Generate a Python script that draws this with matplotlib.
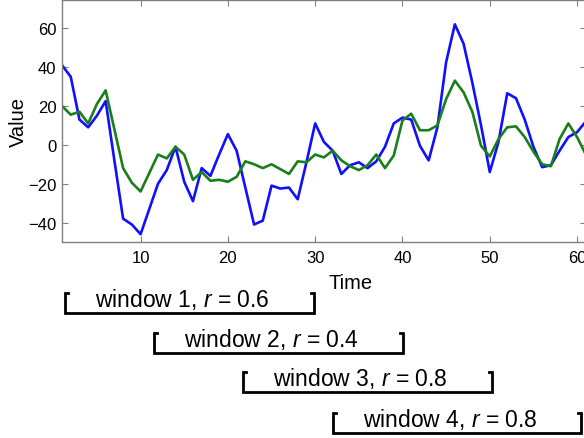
import matplotlib
matplotlib.use("Agg")
import matplotlib.pyplot as plt
from matplotlib.transforms import blended_transform_factory

plt.rcParams['font.family'] = ['Liberation Sans', 'DejaVu Sans']
plt.rcParams['mathtext.fontset'] = 'custom'
plt.rcParams['mathtext.rm'] = 'Liberation Sans'
plt.rcParams['mathtext.it'] = 'Liberation Sans:italic'

# time axis 1..61
time = list(range(1, 62))

# blue series
series_a = [41, 35, 13, 9, 15, 22.5, -8, -38, -41, -46,
            -33, -20, -13, -1, -19, -29, -12, -16, -5, 5.5,
            -3, -22, -41, -39, -21, -22.5, -22, -28, -9, 11,
            1.5, -3, -15, -10.5, -9, -12, -8.5, -1, 11, 14,
            13, -0.5, -8, 9, 42.5, 62, 52, 32, 10, -14,
            1.5, 26.5, 24, 13, -1, -11.5, -10.5, -3, 4, 6.5,
            12]

# green series
series_b = [20, 15.5, 17, 11, 21, 28, 8, -12, -19.5, -24,
            -14.5, -5, -7, -1, -5, -18, -14, -18.5, -18, -19,
            -16.5, -8.5, -10, -12, -10, -12.5, -15, -8.5, -9, -5,
            -6.5, -3, -8, -11, -13, -10.5, -5, -12, -5.5, 12.5,
            16, 7.5, 7.5, 10, 23.5, 33, 27, 17, -0.5, -6,
            3, 9, 9.5, 4, -3.5, -10, -11, 3, 11, 4,
            -5]

x_ticks = [10, 20, 30, 40, 50, 60]
y_ticks = [-40, -20, 0, 20, 40, 60]

# sliding windows (time units) and their correlations
window_names = ['window 1', 'window 2', 'window 3', 'window 4']
window_r = ['0.6', '0.4', '0.8', '0.8']
window_start = [1.3, 11.5, 21.7, 32.0]
window_end = [29.9, 40.1, 50.3, 60.5]

W, H = 584, 439
fig = plt.figure(figsize=(W / 100, H / 100), dpi=100)
ax = fig.add_axes([62 / W, (H - 243) / H, (585.8 - 62) / W, 242 / H])

ax.plot(time, series_a, color='#1010ff', linewidth=1.9)
ax.plot(time, series_b, color='#1a7f1a', linewidth=1.9)

ax.set_xlim(1, 61)
ax.set_ylim(-50, 74.5)
ax.set_xticks(x_ticks)
ax.set_yticks(y_ticks)
ax.tick_params(direction='in', length=4, width=0.8, color='#808080',
               labelsize=12, top=True, right=True)
ax.tick_params(axis='x', pad=6)
ax.tick_params(axis='y', pad=4)
for s in ax.spines.values():
    s.set_color('#808080')
    s.set_linewidth(1.0)

ax.set_ylabel('Value', fontsize=14.5, labelpad=0)
ax.set_xlabel('Time', fontsize=14.5)
ax.xaxis.set_label_coords((351 - 62) / (585.8 - 62), -0.13)

# window brackets below the axes
trans = blended_transform_factory(ax.transData, fig.transFigure)
bottoms = [314, 354, 393, 434]
for i in range(len(window_names)):
    yb = 1 - bottoms[i] / H
    yt = 1 - (bottoms[i] - 20) / H
    x0, x1 = window_start[i], window_end[i]
    serif = 0.35
    ax.plot([x0 + serif, x0, x0, x1, x1, x1 - serif], [yt, yt, yb, yb, yt, yt],
            color='black', linewidth=2.0, transform=trans, clip_on=False,
            solid_joinstyle='miter')
    ax.text(x0 + 3.5, 1 - (bottoms[i] - 7) / H,
            window_names[i] + ', $r$ = ' + window_r[i],
            transform=trans, fontsize=16.5, ha='left', va='baseline')

fig.savefig('out.png', dpi=100)
